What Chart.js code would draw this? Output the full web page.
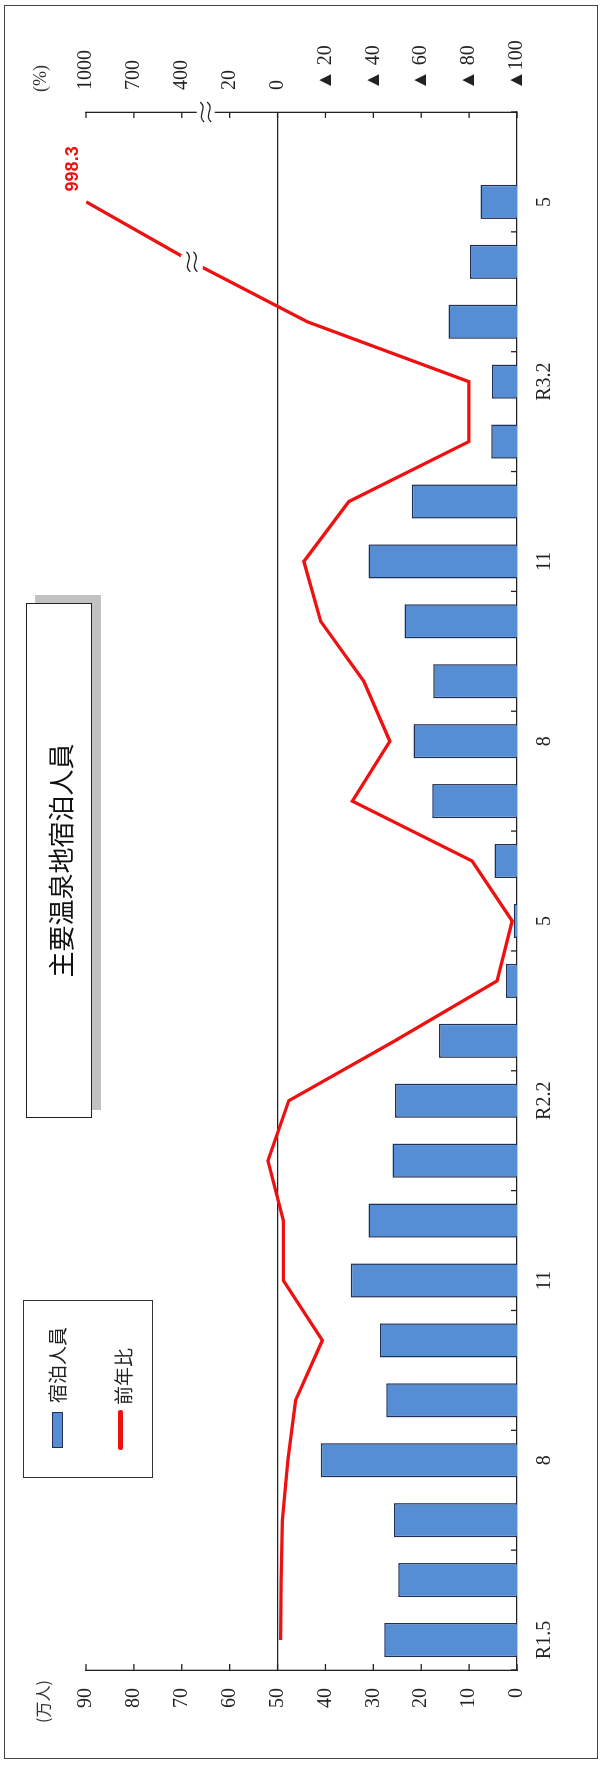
<!DOCTYPE html>
<html lang="ja">
<head>
<meta charset="utf-8">
<title>主要温泉地宿泊人員</title>
<script src="https://cdn.jsdelivr.net/npm/chart.js@4.4.1/dist/chart.umd.min.js"></script>
<style>
    html, body { margin: 0; padding: 0; background: #fff; }
    body { width: 603px; height: 1767px; overflow: hidden; position: relative; }

    /* the chart is laid out landscape and turned a quarter to the left */
    #stage {
        position: absolute; left: 0; top: 0;
        width: 1767px; height: 603px;
        transform-origin: 0 0;
        transform: translateY(1767px) rotate(-90deg);
        background: #fff;
    }
    #chart { position: absolute; left: 0; top: 0; }
    .frame {
        position: absolute; left: 8px; top: 4px; width: 1754px; height: 594px;
        border: 1.5px solid #444; box-sizing: border-box;
    }
    .title-box {
        position: absolute; left: 649px; top: 26px; width: 515px; height: 66px;
        border: 1.5px solid #222; box-sizing: border-box; background: #fff;
        box-shadow: 8px 9px 0 #c2c2c2;
        display: flex; align-items: center; justify-content: center;
        font: 26px 'Noto Sans CJK JP', sans-serif; color: #111;
    }
    .legend-box {
        position: absolute; left: 289px; top: 23px; width: 178px; height: 130px;
        border: 1.5px solid #333; box-sizing: border-box; background: #fff;
        font: 19px 'Noto Sans CJK JP', sans-serif; color: #222;
    }
    .legend-box .swatch {
        position: absolute; left: 29px; top: 28px; width: 36px; height: 11px;
        background: #558ed5; border: 1.5px solid #1f2f55; box-sizing: border-box;
    }
    .legend-box .stroke {
        position: absolute; left: 27px; top: 94px; width: 40px; height: 4.5px;
        background: #ee1111; border-radius: 2px;
    }
    .legend-box .label { position: absolute; line-height: 26px; white-space: nowrap; }
    .unit { position: absolute; line-height: 24px; color: #333; white-space: nowrap; }
</style>
</head>
<body>
<div id="stage">
    <div class="frame"></div>
    <canvas id="chart" width="1767" height="603"></canvas>
    <div class="title-box">主要温泉地宿泊人員</div>
    <div class="legend-box">
        <div class="swatch"></div><div class="label" style="left:74px; top:20px;">宿泊人員</div>
        <div class="stroke"></div><div class="label" style="left:72px; top:86px;">前年比</div>
    </div>
    <div class="unit" style="left:44px; top:30px; font: 16px 'Noto Sans CJK JP', sans-serif;">(万人)</div>
    <div class="unit" style="left:1675px; top:30px; font: 18px 'Liberation Serif', serif;">(%)</div>
</div>

<script>
Chart.defaults.font.family = "'Liberation Serif', 'DejaVu Serif', serif";
Chart.defaults.color = '#222';

const barBlue = '#558ed5';
const barEdge = '#1f2f55';
const lineRed = '#ee1111';
const axisInk = '#222';

// --- DATA ---
// R1.5 (May 2019) .. R3.5, plus one empty slot at the end of the axis
const months = ['R1.5', 'R1.6', 'R1.7', 'R1.8', 'R1.9', 'R1.10', 'R1.11', 'R1.12',
    'R2.1', 'R2.2', 'R2.3', 'R2.4', 'R2.5', 'R2.6', 'R2.7', 'R2.8', 'R2.9', 'R2.10', 'R2.11', 'R2.12',
    'R3.1', 'R3.2', 'R3.3', 'R3.4', 'R3.5', ''];
const monthTicks = ['R1.5', '', '', '8', '', '', '11', '', '', 'R2.2', '', '', '5', '', '',
    '8', '', '', '11', '', '', 'R3.2', '', '', '5', ''];

// 宿泊人員 (万人)
const guests = [27.7, 24.8, 25.7, 41.0, 27.3, 28.6, 34.7, 31.0, 26.0, 25.5, 16.3, 2.3, 0.7,
    4.7, 17.7, 21.6, 17.5, 23.5, 31.0, 22.0, 5.4, 5.2, 14.3, 9.8, 7.6];

// 前年比 (%)
const yoy = [-1.3, -1.5, -2.0, -4.3, -7.5, -18.7, -2.4, -2.4, 4.0, -4.7, -49.0, -91.7, -98.0,
    -81.3, -31.2, -46.9, -36.0, -18.0, -11.0, -29.8, -79.9, -79.9, -12.4, 320.0, 998.3];

const guestTicks = [0, 10, 20, 30, 40, 50, 60, 70, 80, 90];
const pctTicks = ['▲100', '▲ 80', '▲ 60', '▲ 40', '▲ 20', '0', '20', '400', '700', '1000'];

// right axis is broken above 20%: -100..20 step 20, then 20->400, 400->700->1000
function pctToSlot(v) {
    if (v <= 20) return (v + 100) / 20;
    if (v <= 400) return 6 + (v - 20) / 380;
    return 7 + (v - 400) / 300;
}

// wavy "≈" break mark, drawn over a white gap
function drawBreak(ctx, cx, cy, w, h) {
    ctx.fillStyle = '#fff';
    ctx.fillRect(cx - w / 2, cy - h / 2, w, h);
    ctx.strokeStyle = axisInk;
    ctx.lineWidth = 1.3;
    [-3.5, 3.5].forEach(d => {
        ctx.beginPath();
        ctx.moveTo(cx - 10, cy + d + 2);
        ctx.bezierCurveTo(cx - 4, cy + d - 6, cx + 4, cy + d + 6, cx + 10, cy + d - 2);
        ctx.stroke();
    });
}

const decorations = {
    id: 'decorations',
    afterDraw(chart) {
        const { ctx, chartArea: a, scales } = chart;
        ctx.save();
        ctx.strokeStyle = axisInk;
        ctx.lineWidth = 1.3;

        const tick = (x1, y1, x2, y2) => {
            ctx.beginPath(); ctx.moveTo(x1, y1); ctx.lineTo(x2, y2); ctx.stroke();
        };
        // tick marks point into the plot
        scales.y.ticks.forEach(t => {
            const p = scales.y.getPixelForValue(t.value);
            tick(a.left, p, a.left + 6, p);
        });
        scales.y1.ticks.forEach(t => {
            const p = scales.y1.getPixelForValue(t.value);
            tick(a.right - 6, p, a.right, p);
        });
        for (let k = 0; k <= months.length; k += 2) {
            const p = scales.x.getPixelForValue(k - 0.5);
            tick(p, a.bottom - 6, p, a.bottom);
        }

        // break on the % axis
        drawBreak(ctx, a.right, scales.y1.getPixelForValue(6.5), 10, 18);

        // break on the line where it leaves the normal range, and the end value
        const pts = chart.getDatasetMeta(1).data;
        const brk = pts[yoy.length - 2];
        drawBreak(ctx, brk.x, brk.y, 14, 22);

        const last = pts[yoy.length - 1];
        ctx.fillStyle = lineRed;
        ctx.font = "bold 18px 'Liberation Sans', Arial, sans-serif";
        ctx.textAlign = 'center';
        ctx.textBaseline = 'middle';
        ctx.fillText(yoy[yoy.length - 1].toFixed(1), last.x + 33, last.y - 13);
        ctx.restore();
    }
};

document.addEventListener('DOMContentLoaded', () => {
    const tickFont = { size: 20 };

    new Chart(document.getElementById('chart'), {
        type: 'bar',
        data: {
            labels: months,
            datasets: [
                {
                    type: 'bar',
                    label: '宿泊人員',
                    data: guests,
                    yAxisID: 'y',
                    backgroundColor: barBlue,
                    borderColor: barEdge,
                    borderWidth: 1.5,
                    barPercentage: 0.57,
                    categoryPercentage: 1,
                    order: 2
                },
                {
                    type: 'line',
                    label: '前年比',
                    data: yoy.map(pctToSlot),
                    yAxisID: 'y1',
                    borderColor: lineRed,
                    borderWidth: 3.3,
                    pointRadius: 0,
                    tension: 0,
                    fill: false,
                    order: 1
                }
            ]
        },
        options: {
            responsive: false,
            devicePixelRatio: 1,
            animation: false,
            layout: { padding: { top: 86, left: 0, right: 0, bottom: 0 } },
            plugins: {
                legend: { display: false },
                tooltip: { enabled: false }
            },
            scales: {
                x: {
                    type: 'category',
                    offset: true,
                    grid: { display: false, drawTicks: false, offset: true },
                    border: { display: true, color: axisInk, width: 1.3 },
                    ticks: {
                        autoSkip: false,
                        maxRotation: 0,
                        padding: 16,
                        font: tickFont,
                        callback: (v, i) => monthTicks[i]
                    },
                    afterFit: s => { s.height = 86; }
                },
                y: {
                    position: 'left',
                    min: guestTicks[0],
                    max: guestTicks[guestTicks.length - 1],
                    grid: { display: false, drawTicks: false },
                    border: { display: true, color: axisInk, width: 1.3 },
                    ticks: { stepSize: 10, padding: 18, font: tickFont },
                    afterFit: s => { s.width = 97; }
                },
                y1: {
                    position: 'right',
                    min: 0,
                    max: pctTicks.length - 1,
                    grid: {
                        drawTicks: false,
                        color: c => (c.tick && c.tick.value === 5) ? axisInk : 'rgba(0,0,0,0)',
                        lineWidth: 1.3
                    },
                    border: { display: true, color: axisInk, width: 1.3 },
                    ticks: {
                        stepSize: 1,
                        padding: 22,
                        font: tickFont,
                        callback: v => pctTicks[v]
                    },
                    afterFit: s => { s.width = 112; }
                }
            }
        },
        plugins: [decorations]
    });
});
</script>
</body>
</html>
